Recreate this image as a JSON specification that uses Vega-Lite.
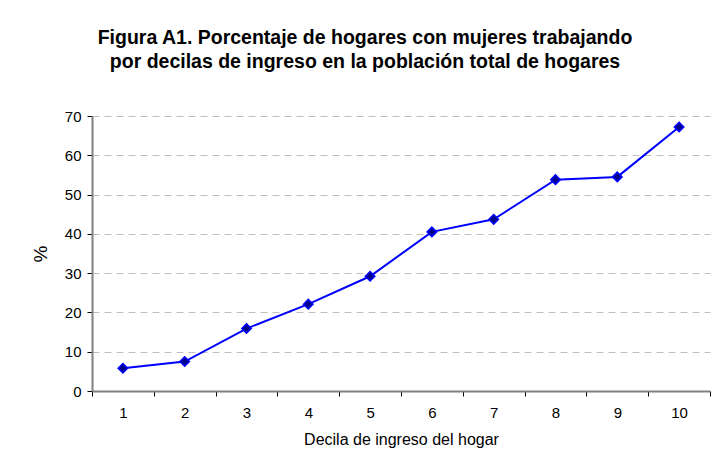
{
  "$schema": "https://vega.github.io/schema/vega-lite/v6.json",
  "width": 618,
  "height": 275,
  "autosize": {"type": "none"},
  "padding": {"left": 92, "top": 116, "right": 4, "bottom": 76},
  "background": "white",
  "title": {
    "text": ["Figura A1. Porcentaje de hogares con mujeres trabajando", "por decilas de ingreso en la población total de hogares"],
    "font": "Liberation Sans",
    "fontSize": 19.5,
    "fontWeight": "bold",
    "color": "#000000",
    "anchor": "middle",
    "dx": -36,
    "offset": 37,
    "lineHeight": 24
  },
  "data": {
    "values": [
      {"decila": "1", "pct": 5.8},
      {"decila": "2", "pct": 7.5},
      {"decila": "3", "pct": 15.9},
      {"decila": "4", "pct": 22.1},
      {"decila": "5", "pct": 29.2},
      {"decila": "6", "pct": 40.5},
      {"decila": "7", "pct": 43.7},
      {"decila": "8", "pct": 53.8},
      {"decila": "9", "pct": 54.5},
      {"decila": "10", "pct": 67.2}
    ]
  },
  "mark": {
    "type": "line",
    "color": "#0000FF",
    "strokeWidth": 2,
    "point": {"shape": "diamond", "filled": true, "fill": "#00008B", "stroke": "#0000FF", "strokeWidth": 1.5, "size": 90}
  },
  "encoding": {
    "x": {
      "field": "decila",
      "type": "ordinal",
      "sort": null,
      "scale": {"type": "band", "paddingInner": 0, "paddingOuter": 0},
      "axis": {
        "title": "Decila de ingreso del hogar",
        "labelAngle": 0,
        "tickBand": "extent",
        "grid": false,
        "domainColor": "#808080",
        "domainWidth": 2,
        "tickColor": "#000000",
        "tickSize": 5,
        "tickWidth": 1,
        "labelFont": "Liberation Sans",
        "labelFontSize": 15,
        "labelColor": "#000000",
        "labelPadding": 9,
        "titleFont": "Liberation Sans",
        "titleFontSize": 16,
        "titleFontWeight": "normal",
        "titleColor": "#000000",
        "titlePadding": 11
      }
    },
    "y": {
      "field": "pct",
      "type": "quantitative",
      "scale": {"domain": [0, 70], "nice": false},
      "axis": {
        "title": "%",
        "values": [0, 10, 20, 30, 40, 50, 60, 70],
        "grid": true,
        "gridColor": "#c0c0c0",
        "gridDash": [7, 5],
        "gridWidth": 1,
        "domainColor": "#808080",
        "domainWidth": 2,
        "tickColor": "#000000",
        "tickSize": 5,
        "tickWidth": 1,
        "labelFont": "Liberation Sans",
        "labelFontSize": 15,
        "labelColor": "#000000",
        "labelPadding": 6,
        "titleFont": "Liberation Sans",
        "titleFontSize": 19,
        "titleFontWeight": "normal",
        "titleColor": "#000000",
        "titlePadding": 14
      }
    }
  },
  "config": {
    "view": {"stroke": null}
  }
}
